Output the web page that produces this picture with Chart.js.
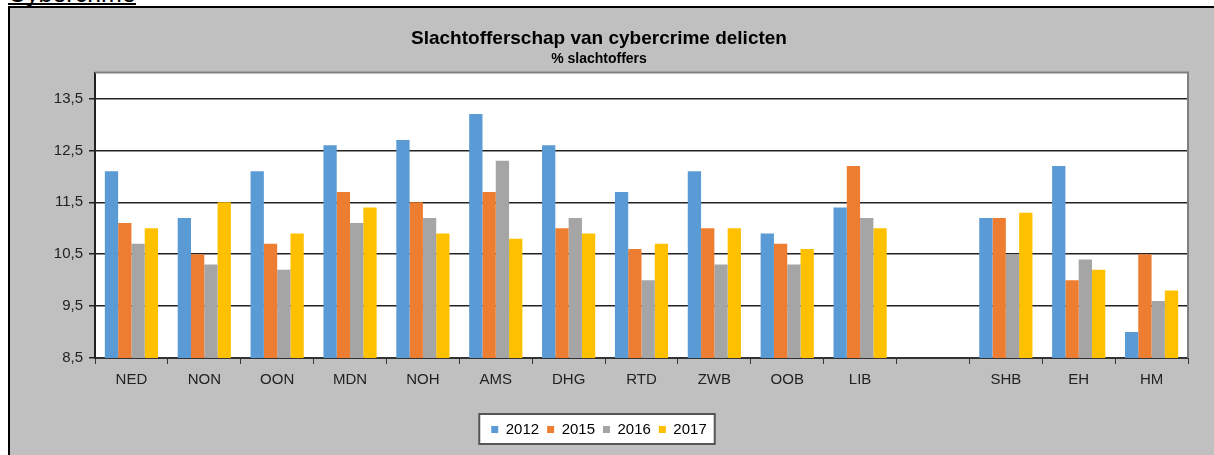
<!DOCTYPE html>
<html>
<head>
<meta charset="utf-8">
<script src="https://cdn.jsdelivr.net/npm/chart.js@4.4.1/dist/chart.umd.min.js"></script>
<style>
  body { margin: 0; background: #fff; width: 1214px; height: 455px; overflow: hidden; position: relative; font-family: Arial, "Liberation Sans", sans-serif; }
  #heading { position: absolute; left: 8px; top: -17px; font-size: 25px; line-height: 20px; height: 20px; color: #000; border-bottom: 2px solid #000; }
  #frame { position: absolute; left: 8px; top: 6px; width: 1206px; height: 449px; background: #c0c0c0; border-left: 2px solid #000; border-top: 2px solid #000; box-sizing: border-box; }
  #wrap { position: absolute; left: 0; top: 0; width: 1204px; height: 447px; }
</style>
</head>
<body>
<div id="heading">Cybercrime</div>
<div id="frame"><div id="wrap"><canvas id="cyberChart"></canvas></div></div>
<script>
const regions = ["NED", "NON", "OON", "MDN", "NOH", "AMS", "DHG", "RTD", "ZWB", "OOB", "LIB", "", "SHB", "EH", "HM"];
const years = ["2012", "2015", "2016", "2017"];
const v2012 = [12.1, 11.2, 12.1, 12.6, 12.7, 13.2, 12.6, 11.7, 12.1, 10.9, 11.4, null, 11.2, 12.2, 9.0];
const v2015 = [11.1, 10.5, 10.7, 11.7, 11.5, 11.7, 11.0, 10.6, 11.0, 10.7, 12.2, null, 11.2, 10.0, 10.5];
const v2016 = [10.7, 10.3, 10.2, 11.1, 11.2, 12.3, 11.2, 10.0, 10.3, 10.3, 11.2, null, 10.5, 10.4, 9.6];
const v2017 = [11.0, 11.5, 10.9, 11.4, 10.9, 10.8, 10.9, 10.7, 11.0, 10.6, 11.0, null, 11.3, 10.2, 9.8];
const yTicks = [8.5, 9.5, 10.5, 11.5, 12.5, 13.5];
const colors = ["#5b9bd5", "#ed7d31", "#a5a5a5", "#ffc000"];

const fontFamily = "Arial, 'Liberation Sans', sans-serif";

// white plot background + grey border, white box behind the legend items
const backdrop = {
  id: "backdrop",
  beforeDraw(chart) {
    const { ctx, chartArea: a } = chart;
    ctx.save();
    ctx.fillStyle = "#fff";
    ctx.fillRect(a.left, a.top, a.right - a.left, a.bottom - a.top);
    const boxes = chart.legend.legendHitBoxes;
    if (boxes && boxes.length) {
      const l = Math.min(...boxes.map((b) => b.left)) - 12;
      const r = Math.max(...boxes.map((b) => b.left + b.width)) + 8;
      const t = Math.min(...boxes.map((b) => b.top)) - 8;
      const btm = Math.max(...boxes.map((b) => b.top + b.height)) + 7;
      ctx.fillRect(l, t, r - l, btm - t);
      ctx.strokeStyle = "#555";
      ctx.lineWidth = 2;
      ctx.strokeRect(l, t, r - l, btm - t);
    }
    ctx.restore();
  },
  afterDraw(chart) {
    const { ctx, chartArea: a } = chart;
    ctx.save();
    ctx.strokeStyle = "#808080";
    ctx.lineWidth = 2;
    ctx.beginPath();
    ctx.moveTo(a.left, a.top);
    ctx.lineTo(a.right, a.top);
    ctx.lineTo(a.right, a.bottom);
    ctx.stroke();
    ctx.restore();
  },
};

const series = [v2012, v2015, v2016, v2017];

new Chart(document.getElementById("cyberChart"), {
  type: "bar",
  data: {
    labels: regions,
    datasets: years.map((y, i) => ({
      label: y,
      data: series[i],
      backgroundColor: colors[i],
      borderWidth: 0,
      categoryPercentage: 0.73,
      barPercentage: 1.0,
    })),
  },
  options: {
    responsive: true,
    maintainAspectRatio: false,
    animation: false,
    layout: { padding: { left: 0, right: 26, top: 0, bottom: 8 } },
    plugins: {
      title: {
        display: true,
        text: "Slachtofferschap van cybercrime delicten",
        color: "#000",
        font: { size: 19, weight: "bold", family: fontFamily },
        padding: { top: 19, bottom: 1 },
      },
      subtitle: {
        display: true,
        text: "% slachtoffers",
        color: "#000",
        font: { size: 14, weight: "bold", family: fontFamily },
        padding: { top: 0, bottom: 5 },
      },
      legend: {
        position: "bottom",
        labels: {
          boxWidth: 7,
          boxHeight: 7,
          padding: 8,
          color: "#000",
          font: { size: 15, family: fontFamily },
        },
      },
      tooltip: { enabled: false },
    },
    scales: {
      x: {
        offset: true,
        afterFit(scale) {
          scale.height = 56;
        },
        grid: {
          offset: true,
          drawOnChartArea: false,
          drawTicks: true,
          tickLength: 6,
          color: "#333",
        },
        border: { color: "#333", width: 2 },
        ticks: {
          color: "#222",
          font: { size: 15, family: fontFamily },
          padding: 7,
        },
      },
      y: {
        min: 8.5,
        max: 14,
        afterBuildTicks(scale) {
          scale.ticks = yTicks.map((v) => ({ value: v }));
        },
        afterFit(scale) {
          scale.width = 85;
        },
        grid: {
          color: "#222",
          lineWidth: 1.5,
          tickLength: 6,
        },
        border: { color: "#222", width: 2 },
        ticks: {
          color: "#222",
          font: { size: 15, family: fontFamily },
          padding: 6,
          callback: (v) => String(v).replace(".", ","),
        },
      },
    },
  },
  plugins: [backdrop],
});
</script>
</body>
</html>
